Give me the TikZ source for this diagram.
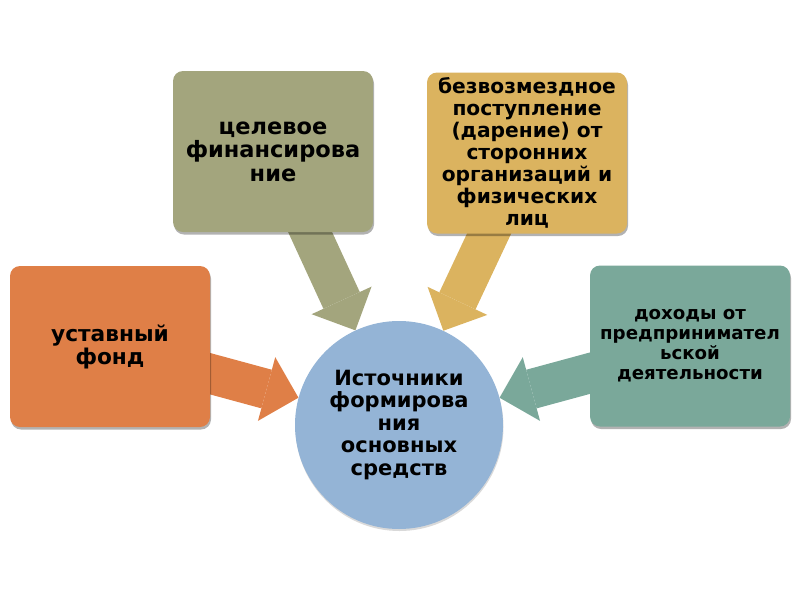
\documentclass[tikz,border=0pt]{standalone}
\usepackage{fontspec}
\setmainfont{DejaVu Sans}
\usetikzlibrary{arrows.meta,shadows}
\pgfdeclarelayer{back}
\pgfsetlayers{back,main}

\definecolor{fondcol}{HTML}{DF7F47}
\definecolor{celcol}{HTML}{A3A57D}
\definecolor{darcol}{HTML}{DBB35F}
\definecolor{dohcol}{HTML}{7AA89A}
\definecolor{srccol}{HTML}{94B4D6}

\tikzset{
  srcbox/.style={rounded corners=10pt, minimum width=200pt, minimum height=161pt,
    align=center, inner sep=2pt,
    drop shadow={shadow xshift=1pt, shadow yshift=-2.5pt, fill=black, opacity=0.3}},
  fatarrow/.style={line width=40pt, -{Triangle[length=33pt, width=66pt, line width=0pt]}},
}

\begin{document}
\begin{tikzpicture}[x=1pt, y=-1pt]
	\useasboundingbox (0,0) rectangle (800,600);
	\node [srcbox, fill=fondcol, font=\bfseries\fontsize{21.7}{23}\selectfont] (fond) at (110,346.5) {уставный\\фонд};
	\node [srcbox, fill=celcol, font=\bfseries\fontsize{22.5}{23.5}\selectfont] (celev) at (273,151.5) {целевое\\финансирова\\ние};
	\node [srcbox, fill=darcol, font=\bfseries\fontsize{20.2}{22}\selectfont] (daren) at (527,153) {безвозмездное\\поступление\\(дарение) от\\сторонних\\организаций и\\физических\\лиц};
	\node [srcbox, fill=dohcol, font=\bfseries\fontsize{18.2}{20}\selectfont] (dohod) at (690,346) {доходы от\\предпринимател\\ьской\\деятельности};
	\node [circle, fill=srccol, minimum size=208pt, align=center, inner sep=0pt,
	  font=\bfseries\fontsize{21}{22.5}\selectfont,
	  drop shadow={shadow xshift=0.5pt, shadow yshift=-2pt, fill=black, opacity=0.15}] (src) at (399,425)
	  {Источники\\формирова\\ния\\основных\\средств};
	\begin{pgfonlayer}{back}
	\draw [fatarrow, fondcol] (fond.center) -- (src);
	\draw [fatarrow, celcol] (celev.center) -- (src);
	\draw [fatarrow, darcol] (daren.center) -- (src);
	\draw [fatarrow, dohcol] (dohod.center) -- (src);
	\end{pgfonlayer}
\end{tikzpicture}
\end{document}
